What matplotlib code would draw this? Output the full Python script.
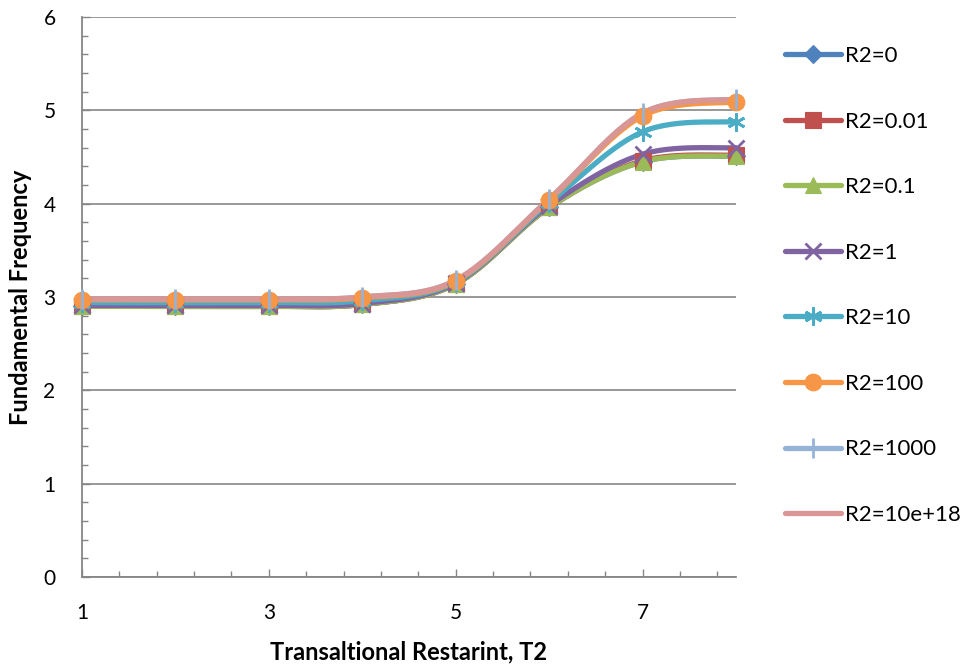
import numpy as np
import matplotlib
matplotlib.use("Agg")
import matplotlib.pyplot as plt
from matplotlib.ticker import MultipleLocator

plt.rcParams['font.family'] = ['Lato', 'DejaVu Sans']

x = [1, 2, 3, 4, 5, 6, 7, 8]
labels = ["R2=0", "R2=0.01", "R2=0.1", "R2=1", "R2=10", "R2=100", "R2=1000", "R2=10e+18"]
y_r0 = [2.90, 2.90, 2.90, 2.92, 3.14, 3.96, 4.45, 4.51]
y_r001 = [2.90, 2.90, 2.90, 2.92, 3.14, 3.96, 4.46, 4.52]
y_r01 = [2.90, 2.90, 2.90, 2.92, 3.14, 3.96, 4.45, 4.51]
y_r1 = [2.91, 2.91, 2.91, 2.93, 3.15, 3.98, 4.53, 4.60]
y_r10 = [2.94, 2.94, 2.94, 2.96, 3.16, 4.01, 4.77, 4.88]
y_r100 = [2.97, 2.97, 2.97, 2.99, 3.17, 4.04, 4.94, 5.09]
y_r1000 = [2.98, 2.98, 2.98, 3.00, 3.18, 4.05, 4.97, 5.12]
y_r1e18 = [2.98, 2.98, 2.98, 3.00, 3.18, 4.05, 4.97, 5.12]
series = [y_r0, y_r001, y_r01, y_r1, y_r10, y_r100, y_r1000, y_r1e18]

colors = ["#4F81BD", "#C0504D", "#9BBB59", "#8064A2", "#4BACC6", "#F79646", "#95B3D7", "#D99694"]
markers = ["D", "s", "^", "x", (6, 2, 0), "o", "|", None]
msizes = [9, 11, 11, 11, 13, 12, 14, 0]


def smooth(xs, ys, n=30):
    # Excel-style smoothed line: cubic Bezier with Catmull-Rom control points
    xs = np.asarray(xs, float); ys = np.asarray(ys, float)
    P = np.column_stack([xs, ys])
    Pp = np.vstack([P[0], P, P[-1]])
    out = []
    t = np.linspace(0, 1, n)[:, None]
    for i in range(len(P) - 1):
        p0, p1, p2, p3 = Pp[i], Pp[i + 1], Pp[i + 2], Pp[i + 3]
        c1 = p1 + (p2 - p0) / 6.0
        c2 = p2 - (p3 - p1) / 6.0
        seg = ((1 - t) ** 3) * p1 + 3 * ((1 - t) ** 2) * t * c1 + 3 * (1 - t) * t ** 2 * c2 + t ** 3 * p2
        out.append(seg if i == 0 else seg[1:])
    out = np.vstack(out)
    return out[:, 0], out[:, 1]


fig = plt.figure(figsize=(9.71, 6.71), dpi=100)
W, H = 971, 671
ax = fig.add_axes([82 / W, (H - 577) / H, (736 - 82) / W, (577 - 17) / H])

for ys, c, m, ms, lab in zip(series, colors, markers, msizes, labels):
    sx, sy = smooth(x, ys)
    ax.plot(sx, sy, color=c, lw=3.8, solid_capstyle='round', zorder=3, clip_on=False)
    mew = 2.0 if (m in ("x", "|") or isinstance(m, tuple)) else 0.8
    if m is not None:
        ax.plot(x, ys, linestyle='none', marker=m, markersize=ms, color=c,
                markeredgecolor=c, markeredgewidth=mew, zorder=4, clip_on=False)
    ax.plot([], [], color=c, lw=3.8, marker=m, markersize=ms, solid_capstyle='round',
            markeredgewidth=mew, label=lab)

ax.set_xlim(1, 8)
ax.set_ylim(0, 6)
ax.xaxis.set_major_locator(MultipleLocator(2, offset=1))
ax.xaxis.set_minor_locator(MultipleLocator(0.4, offset=1))
ax.yaxis.set_major_locator(MultipleLocator(1))
ax.yaxis.set_minor_locator(MultipleLocator(0.2))
ax.grid(axis='y', which='major', color='#868686', lw=1.2, zorder=0)
ax.set_axisbelow(True)
for s in ['top', 'right']:
    ax.spines[s].set_visible(False)
for s in ['left', 'bottom']:
    ax.spines[s].set_color('#868686')
    ax.spines[s].set_linewidth(1.3)
ax.tick_params(axis='both', which='both', direction='in', color='#868686', width=1)
ax.tick_params(axis='both', which='major', length=6, labelsize=15)
ax.tick_params(axis='both', which='minor', length=4)
ax.tick_params(axis='x', which='major', pad=19)
ax.tick_params(axis='y', which='major', pad=19)

ax.set_xlabel("Transaltional Restarint, T2", fontsize=17, fontweight='bold', labelpad=12)
ax.set_ylabel("Fundamental Frequency", fontsize=17, fontweight='bold')
ax.yaxis.set_label_coords(-0.076, 0.5)

leg = fig.legend(loc='upper left', bbox_to_anchor=(785 / W, 1 - 46 / H), frameon=False,
                 fontsize=16, labelspacing=2.05, handlelength=2.5, handletextpad=0.2,
                 borderaxespad=0, borderpad=0)

fig.savefig("out.png", dpi=100)
